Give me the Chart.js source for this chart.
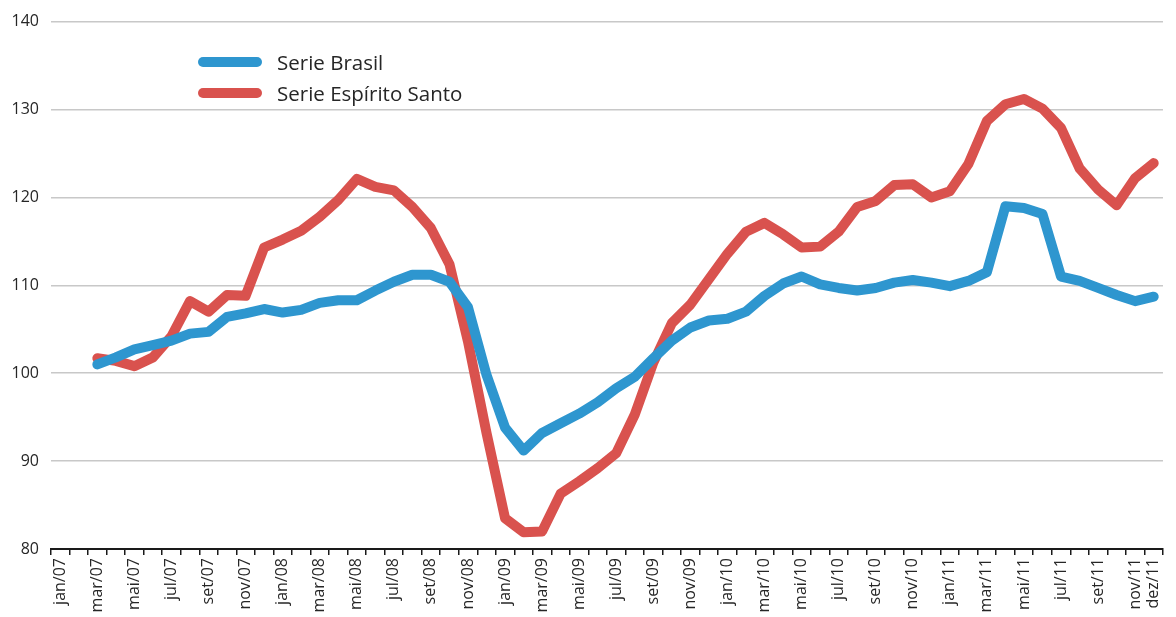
<!doctype html>
<html lang="pt">
  <head>
    <meta charset="utf-8">
    <title>Serie Brasil x Serie Espírito Santo</title>
    <style>
      * {
        margin: 0;
        padding: 0;
      }
      body {
        background: #fff;
        font-family: "Open Sans", sans-serif;
      }
      .chartBox {
        position: relative;
        width: 1176px;
        height: 617px;
      }
      .legend {
        position: absolute;
        left: 198px;
        top: 46px;
      }
      .legend div {
        height: 31px;
        display: flex;
        align-items: center;
        font-size: 20.5px;
        color: #262626;
      }
      .legend span {
        display: inline-block;
        width: 64px;
        height: 10px;
        border-radius: 5px;
        margin-right: 15px;
      }
    </style>
  </head>
  <body>
    <div class="chartBox">
      <canvas id="myChart"></canvas>
      <div class="legend" id="legend"></div>
    </div>
    <script src="https://cdn.jsdelivr.net/npm/chart.js/dist/chart.umd.min.js"></script>
    <script>
    // categories
    const months = [
      'jan/07','fev/07','mar/07','abr/07','mai/07','jun/07','jul/07','ago/07','set/07','out/07','nov/07','dez/07',
      'jan/08','fev/08','mar/08','abr/08','mai/08','jun/08','jul/08','ago/08','set/08','out/08','nov/08','dez/08',
      'jan/09','fev/09','mar/09','abr/09','mai/09','jun/09','jul/09','ago/09','set/09','out/09','nov/09','dez/09',
      'jan/10','fev/10','mar/10','abr/10','mai/10','jun/10','jul/10','ago/10','set/10','out/10','nov/10','dez/10',
      'jan/11','fev/11','mar/11','abr/11','mai/11','jun/11','jul/11','ago/11','set/11','out/11','nov/11','dez/11'
    ];

    // series values (jan/07 and fev/07 have no data)
    const brasil = [
      null, null, 101.0, 101.8, 102.7, 103.2, 103.7, 104.5, 104.7, 106.4, 106.8, 107.3,
      106.9, 107.2, 108.0, 108.3, 108.3, 109.4, 110.4, 111.2, 111.2, 110.4, 107.5, 99.8,
      93.8, 91.2, 93.2, 94.3, 95.4, 96.7, 98.3, 99.6, 101.7, 103.7, 105.2, 106.0,
      106.2, 107.0, 108.8, 110.2, 111.0, 110.1, 109.7, 109.4, 109.7, 110.3, 110.6, 110.3,
      109.9, 110.5, 111.5, 119.0, 118.8, 118.1, 111.0, 110.5, 109.7, 108.9, 108.2, 108.7
    ];
    const espiritoSanto = [
      null, null, 101.7, 101.4, 100.8, 101.8, 104.2, 108.2, 107.0, 108.9, 108.8, 114.3,
      115.2, 116.2, 117.8, 119.7, 122.1, 121.2, 120.8, 118.9, 116.5, 112.4, 103.6, 93.2,
      83.5, 81.9, 82.0, 86.3, 87.7, 89.2, 90.9, 95.3, 101.2, 105.7, 107.8, 110.7,
      113.6, 116.1, 117.1, 115.8, 114.3, 114.4, 116.1, 118.9, 119.6, 121.4, 121.5, 120.0,
      120.7, 123.8, 128.7, 130.6, 131.2, 130.1, 127.9, 123.3, 120.9, 119.1, 122.2, 123.9
    ];

    // y axis
    const yMin = 80;
    const yMax = 140;
    const yStep = 10;

    const blue = '#2e96cf';
    const red = '#d9524e';

    const data = {
      labels: months,
      datasets: [{
        label: 'Serie Brasil',
        data: brasil,
        borderColor: blue,
        backgroundColor: blue,
        borderWidth: 10,
        borderCapStyle: 'round',
        borderJoinStyle: 'round',
        pointRadius: 0,
        tension: 0
      }, {
        label: 'Serie Espírito Santo',
        data: espiritoSanto,
        borderColor: red,
        backgroundColor: red,
        borderWidth: 10,
        borderCapStyle: 'round',
        borderJoinStyle: 'round',
        pointRadius: 0,
        tension: 0
      }]
    };

    const tickFont = { family: '"Open Sans", sans-serif', size: 16 };

    const config = {
      type: 'line',
      data,
      options: {
        responsive: true,
        maintainAspectRatio: false,
        animation: false,
        layout: { padding: { top: 20, right: 11, left: 0, bottom: 0 } },
        plugins: {
          legend: { display: false },
          tooltip: { enabled: false }
        },
        scales: {
          x: {
            offset: true,
            grid: {
              offset: true,
              drawOnChartArea: false,
              drawTicks: true,
              tickLength: 6,
              tickColor: '#1a1a1a',
              lineWidth: 1.5
            },
            border: { display: true, color: '#1a1a1a', width: 2 },
            ticks: {
              autoSkip: false,
              minRotation: 90,
              maxRotation: 90,
              padding: 3,
              color: '#262626',
              font: tickFont,
              callback: function(val, i) {
                return (i % 2 === 0 || i === months.length - 1) ? months[i] : '';
              }
            },
            afterFit: function(scale) { scale.height = 68; }
          },
          y: {
            min: yMin,
            max: yMax,
            grid: {
              color: '#c8c8c8',
              lineWidth: 1.5,
              drawTicks: false
            },
            border: { display: false },
            ticks: {
              stepSize: yStep,
              padding: 12,
              color: '#262626',
              font: tickFont
            },
            afterFit: function(scale) { scale.width = 51; }
          }
        }
      }
    };

    const ctx = document.getElementById('myChart');
    const myChart = new Chart(ctx, config);

    // html legend from the datasets
    const legend = document.getElementById('legend');
    myChart.data.datasets.forEach(function(ds) {
      const row = document.createElement('div');
      const swatch = document.createElement('span');
      swatch.style.background = ds.borderColor;
      row.appendChild(swatch);
      row.appendChild(document.createTextNode(ds.label));
      legend.appendChild(row);
    });
    </script>
  </body>
</html>
